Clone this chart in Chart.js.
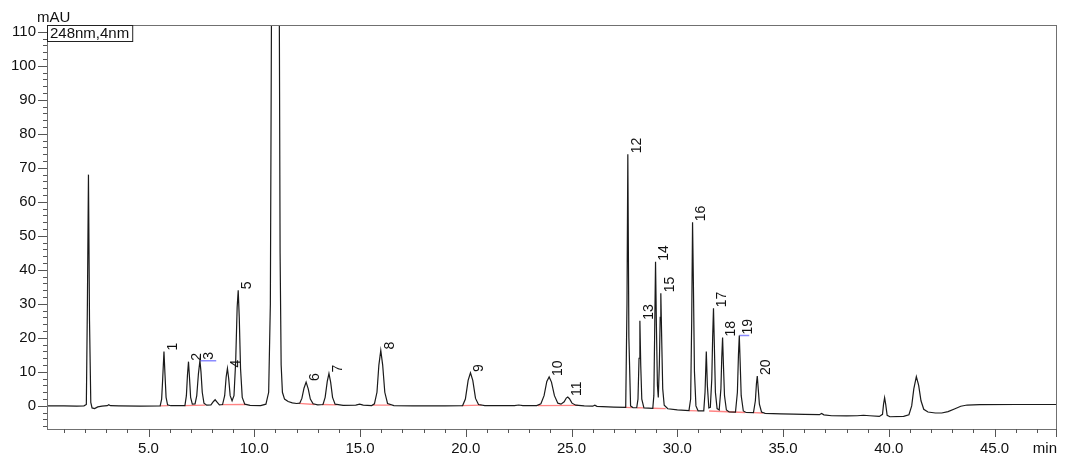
<!DOCTYPE html>
<html lang="en">
<head>
    <meta charset="UTF-8">
    <title>Chromatogram 248nm</title>
    <script src="https://cdn.jsdelivr.net/npm/chart.js"></script>
    <style>
        body {
            margin: 0;
            background: #fff;
        }
        #wrap {
            width: 1080px;
            height: 467px;
        }
    </style>
</head>
<body>
    <div id="wrap">
        <canvas id="chrom" width="1080" height="467"></canvas>
    </div>

    <script>
        // detector trace (min, mAU)
        const traceTime = [
            0.2, 1.0, 1.6, 1.95, 2.06, 2.11, 2.16, 2.21, 2.27, 2.33, 2.45, 2.6, 2.8, 3.05, 3.12, 3.2, 3.6, 4.6,
            5.55, 5.62, 5.67, 5.73, 5.78, 5.83, 5.9, 6.05,
            6.72, 6.79, 6.84, 6.89, 6.94, 6.99, 7.07, 7.2, 7.28, 7.36, 7.43, 7.48, 7.54, 7.62, 7.75,
            7.95, 8.07, 8.15, 8.23, 8.35,
            8.5, 8.6, 8.67, 8.73, 8.79, 8.86, 8.95, 9.04, 9.12, 9.19, 9.24, 9.29, 9.35, 9.43, 9.55, 9.8,
            10.3, 10.55, 10.68, 10.76, 10.84, 11.0, 11.16, 11.22, 11.27, 11.33, 11.43, 11.6, 11.8, 12.0,
            12.15, 12.25, 12.35, 12.45, 12.55, 12.65, 12.78, 13.0,
            13.25, 13.35, 13.45, 13.53, 13.61, 13.7, 13.82, 14.2, 14.8, 14.98, 15.15, 15.55,
            15.68, 15.8, 15.89, 15.98, 16.07, 16.17, 16.3, 16.6, 17.5, 19.0,
            19.85, 19.98, 20.11, 20.22, 20.33, 20.46, 20.6, 20.9, 22.3, 22.5, 22.7, 23.35,
            23.55, 23.7, 23.83, 23.94, 24.05, 24.19, 24.35, 24.5, 24.65, 24.75, 24.82, 24.9, 25.02, 25.2,
            25.6, 26.0, 26.1, 26.2, 27.0,
            27.56, 27.62, 27.66, 27.71, 27.79, 27.9,
            28.08, 28.14, 28.19, 28.23, 28.27, 28.32, 28.42,
            28.84, 28.89, 28.93, 28.97, 29.01, 29.06, 29.1, 29.15, 29.19, 29.22, 29.26, 29.31, 29.38, 29.55,
            30.0, 30.55, 30.63, 30.68, 30.72, 30.76, 30.81, 30.88, 30.98,
            31.25, 31.31, 31.37, 31.42, 31.49, 31.56, 31.63, 31.67, 31.71, 31.75, 31.8, 31.88,
            31.98, 32.06, 32.1, 32.14, 32.18, 32.23, 32.32, 32.45,
            32.75, 32.84, 32.89, 32.93, 32.97, 33.02, 33.12, 33.25,
            33.6, 33.69, 33.74, 33.78, 33.82, 33.88, 33.98, 34.15,
            34.9, 35.5, 36.0, 36.72, 36.82, 36.93, 37.3, 38.0, 38.5, 38.8, 39.1, 39.55,
            39.7, 39.75, 39.8, 39.85, 39.92, 40.05, 40.7, 40.95,
            41.08, 41.18, 41.3, 41.41, 41.52, 41.65, 41.85, 42.2, 42.5, 42.8, 43.1, 43.4, 43.7, 44.3, 46.0, 47.95
        ];
        const traceAbs = [
            0.0, 0.0, -0.05, 0.0, 0.4, 30, 68, 25, 1, -0.6, -0.8, -0.3, -0.1, 0.05, 0.35, 0.05, 0.0, -0.05,
            0.0, 2, 8, 16, 9, 2.5, 0.3, 0.05,
            0.1, 3, 9, 13, 8, 2.5, 0.5, 0.6, 3, 9.5, 13.3, 10, 4, 0.8, 0.2,
            0.3, 1.3, 1.8, 1.2, 0.3,
            0.4, 3, 8.5, 11, 8, 3, 1.5, 3, 13, 29, 34, 26, 11, 2.5, 0.5, 0.15,
            0.1, 0.5, 4, 30, 160, 420, 160, 45, 12, 4, 2, 1.3, 0.9, 0.7,
            0.8, 2.2, 5.2, 7, 5, 2, 0.6, 0.3,
            0.4, 2.5, 7.2, 9.5, 7, 2.5, 0.5, 0.15, 0.2, 0.5, 0.2, 0.1,
            0.6, 4, 12, 16.3, 12, 4, 0.7, 0.1, 0.0, 0.0,
            0.1, 2, 7.5, 9.7, 7.5, 2.2, 0.4, 0.1, 0.1, 0.25, 0.1, 0.1,
            0.6, 3, 7.2, 8.5, 7, 3, 0.8, 0.5, 1.2, 2.3, 2.6, 2.1, 0.8, 0.2,
            0.0, -0.1, 0.2, -0.15, -0.35,
            -0.45, 30, 74, 20, 0, -0.5,
            -0.55, 2, 14, 25, 12, 2, -0.6,
            -0.7, 3, 22, 42.4, 24, 6, 2.5, 12, 26, 33.1, 20, 5, 0.2, -0.85,
            -1.2, -1.4, 2, 25, 54, 36, 10, 0, -1.45,
            -1.45, 4, 16, 6, -0.6, -0.4, 8, 20, 28.7, 18, 4, -0.8,
            -1.2, 5, 14, 20.1, 12, 3, -1.2, -1.8,
            -1.85, 4, 15, 20.7, 13, 3, -1.5, -1.95,
            -2.0, 1.5, 6.5, 8.8, 5.5, 0.5, -1.8, -2.2,
            -2.35, -2.45, -2.5, -2.6, -2.25, -2.65, -2.9, -2.95, -2.9, -2.75, -2.9, -3.1,
            -2.5, 0.5, 2.4, 0.5, -2.8, -3.2, -3.1, -2.6,
            0, 5, 8.6, 6, 1.5, -1.0, -1.8, -2.1, -2.1, -1.7, -0.9, -0.1, 0.25, 0.35, 0.4, 0.4
        ];

        // labelled peaks
        const peakNames = ['1', '2', '3', '4', '5', '6', '7', '8', '9', '10',
                           '11', '12', '13', '14', '15', '16', '17', '18', '19', '20'];
        const peakTimes = [5.73, 6.89, 7.43, 8.73, 9.24, 12.45, 13.53, 15.98, 20.22, 23.94,
                           24.82, 27.66, 28.23, 28.97, 29.22, 30.72, 31.71, 32.14, 32.93, 33.78];
        const peakHeights = [16, 13, 13.3, 11, 34, 7, 9.5, 16.3, 9.7, 8.5,
                             2.6, 74, 25, 42.4, 33.1, 54, 28.7, 20.1, 20.7, 8.8];

        // integration baselines (red)
        const baseStartT = [5.55, 6.7, 8.45, 12.1, 13.2, 15.6, 19.8, 23.4, 27.5, 28.1, 28.85, 30.55, 31.5, 33.6];
        const baseStartV = [0.0, 0.1, 0.35, 0.75, 0.4, 0.2, 0.1, 0.1, -0.45, -0.55, -0.7, -1.4, -1.5, -2.0];
        const baseEndT = [5.95, 7.7, 9.6, 12.85, 13.9, 16.45, 20.75, 25.3, 27.85, 28.4, 29.45, 30.95, 33.2, 34.05];
        const baseEndV = [0.05, 0.2, 0.4, 0.4, 0.3, 0.25, 0.2, 0.15, -0.5, -0.6, -0.8, -1.45, -1.95, -2.1];

        // blue peak-end marks
        const markStartT = [7.43, 32.93];
        const markEndT = [8.2, 33.4];
        const markLevel = [13.3, 20.7];

        const xMajorTicks = [5, 10, 15, 20, 25, 30, 35, 40, 45];
        const yMajorTicks = [0, 10, 20, 30, 40, 50, 60, 70, 80, 90, 100, 110];

        const FONT = '"Liberation Sans", Arial, sans-serif';

        const tracePoints = traceTime.map((t, i) => ({ x: t, y: traceAbs[i] }));

        const basePoints = [];
        baseStartT.forEach((t, i) => {
            basePoints.push({ x: t, y: baseStartV[i] });
            basePoints.push({ x: baseEndT[i], y: baseEndV[i] });
            basePoints.push({ x: baseEndT[i], y: null });
        });

        const markPoints = [];
        markStartT.forEach((t, i) => {
            markPoints.push({ x: t, y: markLevel[i] });
            markPoints.push({ x: markEndT[i], y: markLevel[i] });
            markPoints.push({ x: markEndT[i], y: null });
        });

        // frame, ticks, units, channel box and peak numbers
        const decorPlugin = {
            id: 'decor',
            afterDatasetsDraw(chart) {
                const ctx = chart.ctx;
                const area = chart.chartArea;
                const xs = chart.scales.x;
                const ys = chart.scales.y;
                ctx.save();

                // peak numbers, rotated
                ctx.fillStyle = '#111';
                ctx.font = '14px ' + FONT;
                ctx.textAlign = 'left';
                ctx.textBaseline = 'middle';
                peakNames.forEach((name, i) => {
                    const px = xs.getPixelForValue(peakTimes[i]);
                    const py = ys.getPixelForValue(peakHeights[i]);
                    ctx.save();
                    ctx.translate(px + 9, py - 1);
                    ctx.rotate(-Math.PI / 2);
                    ctx.fillText(name, 0, 0);
                    ctx.restore();
                });

                // frame
                ctx.strokeStyle = '#707070';
                ctx.lineWidth = 1;
                ctx.strokeRect(Math.round(area.left) + 0.5, Math.round(area.top) + 0.5,
                    Math.round(area.right - area.left) - 1, Math.round(area.bottom - area.top));

                // ticks
                ctx.strokeStyle = '#555';
                ctx.beginPath();
                for (let v = 1; v <= 47; v++) {
                    const px = Math.round(xs.getPixelForValue(v)) + 0.5;
                    const len = v % 5 === 0 ? 8 : 4;
                    ctx.moveTo(px, area.bottom);
                    ctx.lineTo(px, area.bottom + len);
                }
                ctx.moveTo(Math.round(area.right) - 0.5, area.bottom);
                ctx.lineTo(Math.round(area.right) - 0.5, area.bottom + 8);
                for (let v = -6; v <= 110; v += 2) {
                    const py = Math.round(ys.getPixelForValue(v)) + 0.5;
                    const len = v % 10 === 0 ? 9 : 4;
                    ctx.moveTo(area.left, py);
                    ctx.lineTo(area.left - len, py);
                }
                ctx.stroke();

                // units
                ctx.fillStyle = '#111';
                ctx.font = '15px ' + FONT;
                ctx.textBaseline = 'bottom';
                ctx.textAlign = 'left';
                ctx.fillText('mAU', 37, area.top);
                ctx.textAlign = 'right';
                ctx.textBaseline = 'top';
                ctx.fillText('min', area.right, area.bottom + 12);

                // channel box
                ctx.textAlign = 'left';
                ctx.textBaseline = 'middle';
                const label = '248nm,4nm';
                const w = ctx.measureText(label).width + 6;
                ctx.fillStyle = '#fff';
                ctx.fillRect(area.left + 0.5, area.top + 0.5, w, 16);
                ctx.strokeStyle = '#222';
                ctx.strokeRect(area.left + 0.5, area.top + 0.5, w, 16);
                ctx.fillStyle = '#111';
                ctx.fillText(label, area.left + 3, area.top + 9);

                ctx.restore();
            }
        };

        const ctx = document.getElementById('chrom').getContext('2d');
        const chart = new Chart(ctx, {
            type: 'line',
            data: {
                datasets: [
                    {
                        label: 'trace',
                        data: tracePoints,
                        borderColor: '#1a1a1a',
                        borderWidth: 1.2,
                        pointRadius: 0,
                        tension: 0,
                        order: 0
                    },
                    {
                        label: 'baseline',
                        data: basePoints,
                        borderColor: 'rgba(255, 110, 110, 0.85)',
                        borderWidth: 1.3,
                        pointRadius: 0,
                        spanGaps: false,
                        order: 1
                    },
                    {
                        label: 'mark',
                        data: markPoints,
                        borderColor: 'rgba(110, 110, 255, 0.8)',
                        borderWidth: 1.5,
                        pointRadius: 0,
                        spanGaps: false,
                        order: 1
                    }
                ]
            },
            options: {
                responsive: false,
                animation: false,
                devicePixelRatio: 1,
                layout: {
                    padding: { top: 25, right: 23, left: 0, bottom: 0 }
                },
                plugins: {
                    legend: { display: false },
                    tooltip: { enabled: false }
                },
                scales: {
                    x: {
                        type: 'linear',
                        min: 0.2,
                        max: 47.95,
                        afterBuildTicks: (s) => { s.ticks = xMajorTicks.map(v => ({ value: v })); },
                        afterFit: (s) => { s.height = 38; },
                        grid: { display: false, drawTicks: false },
                        border: { display: false },
                        ticks: {
                            autoSkip: false,
                            maxRotation: 0,
                            padding: 11,
                            color: '#111',
                            font: { family: FONT, size: 15 },
                            callback: (v) => Number(v).toFixed(1)
                        }
                    },
                    y: {
                        min: -6.8,
                        max: 112,
                        afterBuildTicks: (s) => { s.ticks = yMajorTicks.map(v => ({ value: v })); },
                        afterFit: (s) => { s.width = 47; },
                        grid: { display: false, drawTicks: false },
                        border: { display: false },
                        ticks: {
                            autoSkip: false,
                            padding: 11,
                            color: '#111',
                            font: { family: FONT, size: 15 },
                            callback: (v) => String(v)
                        }
                    }
                }
            },
            plugins: [decorPlugin]
        });
    </script>
</body>
</html>
